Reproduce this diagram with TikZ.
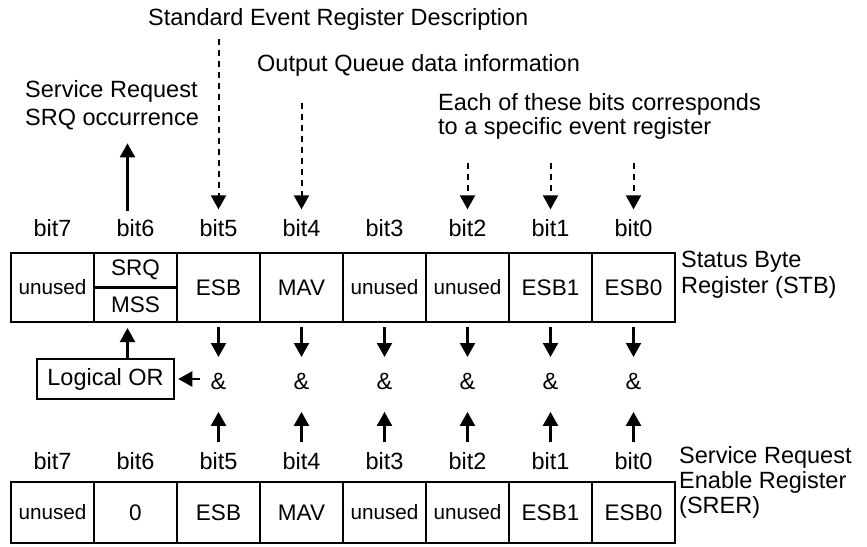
\documentclass[tikz,border=0pt]{standalone}
\usepackage{fontspec}
\setmainfont{Liberation Sans}
\usetikzlibrary{arrows.meta,positioning,calc}

\begin{document}
\begin{tikzpicture}[
        x=1pt, y=-1pt,
        txt/.style={inner sep=0pt, font=\fontsize{23.5}{26}\selectfont},
        cell/.style={draw, line width=2.5pt, outer sep=0pt, inner sep=0pt, minimum width=83pt, minimum height=69pt, font=\fontsize{22.5}{26}\selectfont},
        low/.style={cell, minimum height=61pt},
        smalltxt/.style={font=\fontsize{20.7}{24}\selectfont},
        arrow/.style={-{Triangle[length=14pt,width=15pt]}, line width=2.2pt},
        dotarrow/.style={arrow, line width=2pt, dash pattern=on 6pt off 5pt}
    ]
        \useasboundingbox (0,0) rectangle (867,546);

        % Status Byte Register
        \node[cell, smalltxt] (c7) at (52.5,287.5) {unused};
        \node[cell, right=0pt of c7] (c6) {};
        \node[cell, right=0pt of c6] (c5) {ESB};
        \node[cell, right=0pt of c5] (c4) {MAV};
        \node[cell, smalltxt, right=0pt of c4] (c3) {unused};
        \node[cell, smalltxt, right=0pt of c3] (c2) {unused};
        \node[cell, right=0pt of c2] (c1) {ESB1};
        \node[cell, right=0pt of c1] (c0) {ESB0};
        \draw[line width=2.5pt] (c6.west) -- (c6.east);
        \node[cell, draw=none, minimum height=0pt] (srq) at ($(c6.center)!0.5!(c6.north)$) {SRQ};
        \node[cell, draw=none, minimum height=0pt] (mss) at ($(c6.center)!0.5!(c6.south)$) {MSS};

        % Service Request Enable Register
        \node[low, smalltxt] (d7) at (52.5,512.5) {unused};
        \node[low, right=0pt of d7] (d6) {0};
        \node[low, right=0pt of d6] (d5) {ESB};
        \node[low, right=0pt of d5] (d4) {MAV};
        \node[low, smalltxt, right=0pt of d4] (d3) {unused};
        \node[low, smalltxt, right=0pt of d3] (d2) {unused};
        \node[low, right=0pt of d2] (d1) {ESB1};
        \node[low, right=0pt of d1] (d0) {ESB0};

        \foreach \i in {0,...,7} {
            \node[txt, above=16pt of c\i] (t\i) {bit\i};
            \node[txt, above=12pt of d\i] (b\i) {bit\i};
        }
        \foreach \i in {0,...,5} {
            \node[txt, below=51pt of c\i] (a\i) {\&};
            \draw[arrow, shorten <=5pt, shorten >=16pt] (c\i) -- (a\i);
            \draw[arrow, shorten <=10pt, shorten >=22pt] (b\i) -- (a\i);
        }

        \node[txt, draw, line width=2.5pt, minimum width=137pt, minimum height=40pt] (lor) at (105.5,379) {Logical OR};
        \draw[arrow, shorten <=10.5pt, shorten >=3pt] (a5.west |- lor.east) -- (lor.east);
        \coordinate (in6) at ([xshift=-8pt]c6.south);
        \draw[arrow, shorten >=6pt] (lor.north -| in6) -- (in6);

        % notes
        \node[txt, anchor=base west] (std) at (148,25) {Standard Event Register Description};
        \node[txt, anchor=base west] (oq) at (257,71) {Output Queue data information};
        \node[txt, anchor=north west, align=left, font=\fontsize{23.5}{24}\selectfont] (each) at (438,93) {Each of these bits corresponds\\to a specific event register};
        \node[txt, anchor=north west, align=left, font=\fontsize{23.5}{28}\selectfont] (sreq) at (25,80) {Service Request\\SRQ occurrence};
        \node[txt, anchor=north west, align=left] (stb) at (681,251) {Status Byte\\Register (STB)};
        \node[txt, anchor=north west, align=left, font=\fontsize{23.5}{25}\selectfont] (srer) at (679,446) {Service Request\\Enable Register\\(SRER)};

        \draw[dotarrow, shorten <=9pt, shorten >=10pt] (std.south -| t5) -- (t5);
        \draw[dotarrow, shorten <=27pt, shorten >=10pt] (oq.south -| t4) -- (t4);
        \foreach \i in {2,1,0}
            \draw[dotarrow, shorten <=24pt, shorten >=10pt] (each.south -| t\i) -- (t\i);
        \coordinate (up6) at ([xshift=-8pt]t6.north);
        \draw[arrow, shorten <=8pt, shorten >=13.5pt] (up6) -- (up6 |- sreq.south);
    \end{tikzpicture}
\end{document}
